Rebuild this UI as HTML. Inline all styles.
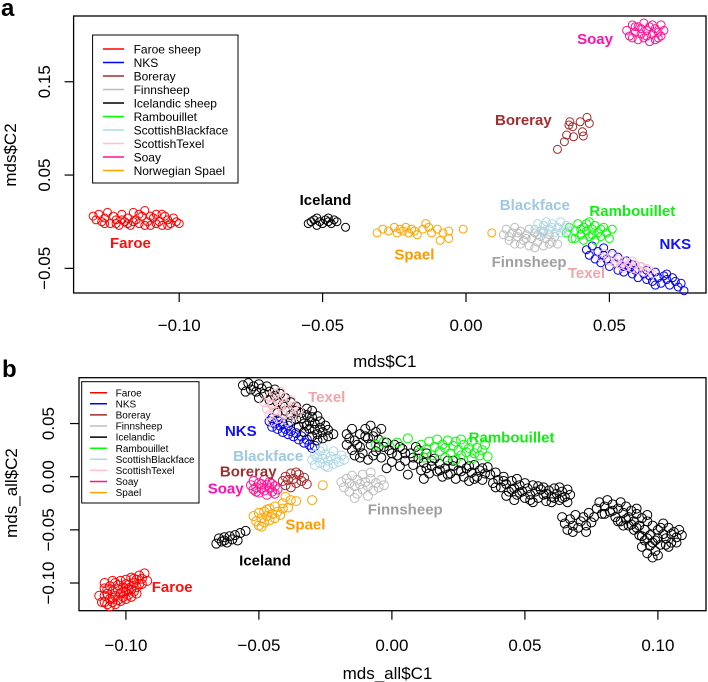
<!DOCTYPE html>
<html><head><meta charset="utf-8"><style>
html,body{margin:0;padding:0;background:#fff;}
svg{display:block;font-family:"Liberation Sans",Arial,sans-serif;}
</style></head><body>
<svg id="fig" width="708" height="682" viewBox="0 0 708 682" xmlns="http://www.w3.org/2000/svg">
<text x="1" y="16" font-size="24" font-weight="bold">a</text>
<text x="2" y="377" font-size="24" font-weight="bold">b</text>
<g id="pa"></g>
<g id="pb"></g>
</svg>
<script>
// ---- data (values in thousandths of MDS units) ----
const breeds = ["Faroe","NKS","Boreray","Finnsheep","Icelandic","Rambouillet","Blackface","Texel","Soay","Spael"];
const colors = {Faroe:"#ff0000",NKS:"#0000ff",Boreray:"#a52a2a",Finnsheep:"#bebebe",Icelandic:"#000000",Rambouillet:"#00ff00",Blackface:"#add8e6",Texel:"#ffc0cb",Soay:"#ff1493",Spael:"#ffa500"};
const labelColors = {Faroe:"#ff1010",NKS:"#1010ff",Boreray:"#a03030",Finnsheep:"#a0a0a0",Icelandic:"#000000",Rambouillet:"#10ee10",Blackface:"#9cc8e0",Texel:"#f4a4a8",Soay:"#ff10b0",Spael:"#ff9900"};
const legendA = ["Faroe sheep","NKS","Boreray","Finnsheep","Icelandic sheep","Rambouillet","ScottishBlackface","ScottishTexel","Soay","Norwegian Spael"];
const legendB = ["Faroe","NKS","Boreray","Finnsheep","Icelandic","Rambouillet","ScottishBlackface","ScottishTexel","Soay","Spael"];
const xTicksA = [-0.10,-0.05,0.00,0.05];
const yTicksA = [-0.05,0.05,0.15];
const xTicksB = [-0.10,-0.05,0.00,0.05,0.10];
const yTicksB = [-0.10,-0.05,0.00,0.05];

const ptsA = {
Faroe:[[-130,6],[-129,2],[-128,8],[-127,0],[-126,4],[-125,10],[-124,-2],[-123,6],[-122,2],[-121,-4],[-120,8],[-119,0],[-118,4],[-117,-4],[-116,10],[-115,2],[-114,-2],[-113,6],[-112,12],[-111,0],[-110,-4],[-109,4],[-108,8],[-107,0],[-106,-4],[-105,6],[-104,2],[-103,-2],[-102,4],[-101,0],[-100,-2],[-118,-2],[-114,8],[-110,6],[-106,8],[-112,-4],[-122,-2],[-126,-2],[-108,-2],[-116,0],[-104,-4],[-120,2]],
NKS:[[42,-30],[43,-36],[44,-26],[45,-40],[46,-32],[47,-44],[48,-36],[48,-28],[49,-40],[50,-48],[51,-34],[52,-44],[53,-52],[53,-38],[54,-46],[55,-54],[56,-42],[57,-50],[58,-56],[58,-46],[59,-52],[60,-60],[61,-48],[62,-56],[63,-62],[63,-52],[64,-58],[65,-64],[66,-54],[67,-60],[68,-66],[69,-58],[70,-62],[71,-68],[72,-60],[73,-64],[74,-70],[75,-66],[76,-74],[66,-68],[60,-52],[55,-48],[70,-56]],
Boreray:[[31.9,77.5],[34.3,85.7],[35.1,92.9],[35.9,103.6],[36.2,107.1],[37.5,91],[39.8,107.1],[40.6,96.4],[40.9,91.8],[42.2,111.8],[43,105.4],[37.2,101.8]],
Finnsheep:[[13,-14],[14,-8],[15,-20],[16,-12],[17,-6],[17,-24],[18,-16],[19,-10],[20,-20],[21,-14],[22,-8],[22,-26],[23,-18],[24,-12],[25,-22],[26,-16],[27,-10],[27,-26],[28,-18],[29,-14],[30,-22],[31,-16],[32,-24],[19,-24],[24,-28],[15,-16],[21,-18],[25,-14],[29,-24],[18,-12]],
Icelandic:[[-55,-2],[-54,0],[-53,2],[-52,4],[-51,0],[-50,-2],[-49,2],[-48,0],[-47,-2],[-46,2],[-45,0],[-42,-6],[-52,-4],[-48,4]],
Rambouillet:[[35,-12],[36,-6],[37,-18],[38,-10],[39,-2],[40,-14],[41,-20],[41,-6],[42,-10],[43,0],[43,-16],[44,-8],[45,-20],[45,-4],[46,-12],[47,-16],[48,-6],[49,-12],[50,-18],[51,-8],[38,-18],[44,-14],[40,-8],[47,-8],[42,-2]],
Blackface:[[24,-8],[25,-2],[26,-10],[27,-4],[28,0],[29,-8],[30,-2],[31,-12],[32,-6],[33,0],[34,-8],[35,-4],[36,-10],[30,-6],[33,-12],[27,-12]],
Texel:[[47,-38],[48,-34],[50,-42],[51,-36],[52,-44],[53,-40],[54,-46],[55,-42],[56,-48],[57,-44],[58,-50],[59,-46],[60,-52],[61,-48],[62,-54],[63,-50],[64,-52],[65,-56],[58,-42],[55,-50]],
Soay:[[56,205],[57,199],[58,211],[59,203],[60,195],[60,209],[61,201],[62,213],[62,197],[63,205],[64,193],[64,209],[65,201],[66,207],[66,195],[67,203],[68,211],[68,199],[69,205],[58,197],[61,207],[63,199],[65,211],[67,197],[59,209]],
Spael:[[-31,-12],[-29,-8],[-27,-10],[-25,-6],[-24,-12],[-23,-8],[-22,-10],[-21,-6],[-20,-12],[-19,-8],[-18,-10],[-17,-14],[-15,-8],[-14,-2],[-13,-6],[-12,-12],[-10,-8],[-9,-20],[-8,-12],[-6,-10],[-6,-18],[-1,-8],[9,-12]]
};
const ptsB = {
Faroe:[[-109,-118],[-108,-112],[-108,-105],[-107,-120],[-107,-110],[-106,-115],[-106,-103],[-105,-108],[-105,-118],[-104,-112],[-104,-100],[-103,-106],[-103,-116],[-102,-110],[-102,-98],[-101,-104],[-101,-113],[-100,-108],[-100,-97],[-99,-102],[-99,-111],[-98,-106],[-98,-95],[-97,-100],[-97,-108],[-96,-97],[-96,-104],[-95,-93],[-95,-101],[-94,-96],[-93,-91],[-92,-98],[-106,-122],[-104,-120],[-102,-117],[-100,-101],[-98,-113],[-108,-100],[-105,-98],[-110,-112],[-107,-106],[-105,-114],[-103,-102],[-101,-108],[-99,-106],[-97,-96],[-94,-101],[-96,-110],[-100,-115],[-108,-118]],
NKS:[[-46,52],[-45,55],[-45,47],[-44,50],[-43,45],[-43,53],[-42,48],[-41,42],[-41,50],[-40,45],[-39,40],[-39,48],[-38,43],[-37,38],[-36,41],[-35,35],[-34,38],[-33,32],[-32,35],[-31,30],[-30,27],[-29,29]],
Boreray:[[-41,-4],[-40,0],[-40,-8],[-39,-3],[-38,3],[-38,-10],[-37,-2],[-36,-6],[-35,2],[-34,-4],[-33,-1],[-32,-7],[-36,4]],
Finnsheep:[[-19,-5],[-18,-10],[-17,-2],[-16,-14],[-16,-6],[-15,1],[-14,-9],[-13,-16],[-13,-3],[-12,-7],[-11,-12],[-11,2],[-10,-5],[-9,-18],[-9,-9],[-8,-2],[-7,-13],[-6,-6],[-5,-10],[-4,-3],[-3,-8],[-14,-20],[-8,4]],
Icelandic:[
[-66,-63],[-65,-58],[-64,-61],[-63,-57],[-62,-62],[-61,-56],[-60,-59],[-59,-55],[-58,-60],[-57,-53],[-55,-51],[-63,-60],
[-56,86],[-54,88],[-52,85],[-50,87],[-55,80],[-53,82],[-51,80],[-49,83],[-47,85],[-48,78],[-46,80],[-44,82],[-50,74],[-46,72],[-44,76],[-42,78],[-40,74],[-45,68],[-43,70],[-41,68],[-38,70],[-36,66],[-40,62],[-38,58],[-36,62],[-34,60],[-32,64],[-38,52],[-36,54],[-34,55],[-32,58],[-30,56],[-35,47],[-33,50],[-31,52],[-29,50],[-27,52],[-33,42],[-31,45],[-29,44],[-27,46],[-25,48],[-30,38],[-28,40],[-26,42],[-24,44],[-28,34],[-26,36],[-24,38],[-22,40],[-43,60],[-30,62],[-28,57],[-32,48],
[-17,30],[-15,25],[-14,34],[-12,40],[-10,45],[-8,48],[-6,42],[-9,36],[-12,28],[-14,20],[-11,22],[-8,30],[-5,35],[-3,28],[-6,24],[-9,16],[-4,18],[-1,25],[1,30],[2,20],[0,14],[4,26],[5,15],[7,22],[8,11],[9,28],[10,17],[11,6],[12,13],[13,22],[14,3],[15,10],[16,17],[17,5],[18,12],[19,0],[20,8],[21,15],[22,3],[23,10],[24,-2],[25,6],[26,13],[27,0],[28,8],[29,-4],[30,4],[31,11],[32,0],[33,6],[34,-3],[35,3],[36,9],[-2,8],[6,2],[12,-2],[-17,40],[-4,45],
[-16,36],[-13,30],[-10,38],[-7,38],[-5,28],[-2,32],[0,22],[3,28],[5,22],[8,18],[10,25],[13,8],[15,15],[18,6],[21,2],[23,15],[26,5],[29,10],[31,-2],[34,8],[-15,45],[-12,18],[-7,20],[3,10],
[37,2],[38,-6],[39,4],[40,-3],[41,-10],[42,0],[43,-7],[44,-14],[45,-4],[46,-11],[47,-17],[48,-8],[49,-14],[50,-20],[51,-11],[52,-17],[53,-8],[54,-14],[55,-20],[56,-12],[57,-17],[58,-23],[59,-13],[60,-19],[61,-11],[62,-16],[63,-22],[64,-14],[65,-19],[66,-12],[67,-17],[46,-22],[53,-24],[60,-24],[43,-18],
[39,-10],[42,-4],[45,-12],[48,-15],[50,-6],[52,-22],[55,-9],[58,-16],[61,-20],[64,-20],[66,-24],[63,-10],[57,-10],[47,-2],
[64,-38],[65,-44],[66,-50],[67,-40],[68,-46],[69,-36],[70,-48],[71,-42],[72,-38],[73,-46],[74,-34],[75,-43],[76,-38],[73,-52],[68,-52],
[77,-30],[78,-24],[79,-35],[80,-28],[81,-22],[82,-33],[83,-26],[84,-38],[85,-30],[86,-24],[86,-42],[87,-34],[88,-28],[89,-46],[89,-38],[90,-32],[91,-50],[91,-42],[92,-35],[93,-55],[93,-46],[94,-39],[95,-60],[95,-50],[96,-42],[97,-65],[97,-55],[98,-46],[99,-70],[99,-60],[100,-50],[101,-64],[102,-54],[102,-44],[103,-58],[104,-48],[105,-62],[106,-52],[107,-57],[108,-50],[96,-72],[100,-74],[104,-66],[109,-55],
[80,-35],[83,-32],[85,-42],[88,-40],[90,-45],[92,-48],[94,-56],[96,-58],[98,-62],[100,-58],[103,-64],[105,-54],[107,-62],[101,-48],[96,-36],[92,-30],[87,-46],[94,-66],[98,-76]],
Rambouillet:[[-6,30],[-3,33],[2,32],[6,36],[10,22],[11,30],[13,26],[14,33],[15,20],[16,28],[17,35],[18,24],[19,30],[20,18],[20,27],[21,34],[22,22],[23,29],[24,16],[24,33],[25,25],[26,20],[27,30],[28,23],[29,27],[30,17],[30,33],[31,22],[32,27],[33,20],[34,25],[35,30],[36,19],[26,35],[12,18]],
Blackface:[[-30,16],[-29,21],[-29,11],[-28,18],[-27,13],[-27,24],[-26,17],[-25,10],[-25,21],[-24,15],[-23,19],[-22,12],[-22,24],[-21,17],[-20,14],[-19,20],[-18,16],[-24,9],[-26,27]],
Texel:[[-48,70],[-47,64],[-46,75],[-46,58],[-45,68],[-44,62],[-44,78],[-43,72],[-43,55],[-42,66],[-41,60],[-41,75],[-40,69],[-39,63],[-39,52],[-38,72],[-37,66],[-36,58],[-35,62],[-42,80],[-45,52]],
Soay:[[-53,-8],[-52,-12],[-52,-4],[-51,-10],[-50,-15],[-50,-6],[-49,-11],[-48,-3],[-48,-13],[-47,-8],[-47,-17],[-46,-11],[-46,-5],[-45,-14],[-44,-9],[-43,-12],[-49,-7],[-45,-7],[-51,-14],[-44,-16]],
Spael:[[-52,-37],[-51,-42],[-50,-34],[-50,-46],[-49,-39],[-48,-43],[-48,-33],[-47,-37],[-46,-41],[-46,-30],[-45,-35],[-44,-39],[-44,-28],[-43,-33],[-42,-36],[-41,-30],[-49,-47],[-47,-31],[-40,-19],[-38,-22],[-36,-23],[-30,-22],[-26,-8],[-41,-25],[-39,-29]]
};
const labelsA = [["Soay",45,196],["Boreray",20,109],["Iceland",-49,23],["Faroe",-117,-23],["Blackface",24,18],["Rambouillet",58,11.5],["Spael",-18,-35],["Finnsheep",22,-43],["Texel",42,-55],["NKS",73,-24]];
const labelsB = [["Texel",-24.5,75],["NKS",-56.8,43],["Rambouillet",45,37],["Blackface",-46.5,19.5],["Boreray",-54,5],["Soay",-62.5,-11],["Finnsheep",5,-31],["Spael",-32.5,-45],["Iceland",-47.7,-79],["Faroe",-82.6,-103.7]];
const labelBreed = {Iceland:"Icelandic"};

const NS="http://www.w3.org/2000/svg";
function mk(tag,attrs,parent){const e=document.createElementNS(NS,tag);for(const k in attrs)e.setAttribute(k,attrs[k]);parent.appendChild(e);return e;}

function panel(g,cfg){
  const sx=v=>cfg.x0px+(v-cfg.x0v)*cfg.kx;
  const sy=v=>cfg.y0px-(v-cfg.y0v)*cfg.ky;
  const box=mk("rect",{x:cfg.L,y:cfg.T,width:cfg.R-cfg.L,height:cfg.B-cfg.T,fill:"none",stroke:"#000","stroke-width":1.3},g);
  
  
  cfg.xt.forEach(v=>{
    const x=sx(v);
    const t=mk("line",{x1:x,x2:x,y1:cfg.B,y2:cfg.B+9,stroke:"#000","stroke-width":1.2},g);
    
    
    const l=mk("text",{x:x,y:cfg.xlabY,"font-size":17,"text-anchor":"middle"},g);
    l.textContent=(v<0?"\u2212":"")+Math.abs(v).toFixed(2);
    
    
  });
  cfg.yt.forEach(v=>{
    const y=sy(v);
    const t=mk("line",{x1:cfg.L-9,x2:cfg.L,y1:y,y2:y,stroke:"#000","stroke-width":1.2},g);
    
    
    const l=mk("text",{x:0,y:0,"font-size":17,"text-anchor":"middle",transform:`translate(${cfg.ylabX},${y}) rotate(-90)`},g);
    l.textContent=(v<0?"\u2212":"")+Math.abs(v).toFixed(2);
    
    
  });
  const xt=mk("text",{x:(cfg.L+cfg.R)/2-5,y:cfg.xTitleY,"font-size":17,"text-anchor":"middle"},g);
  xt.textContent=cfg.xTitle;
  
  
  const yt=mk("text",{x:0,y:0,"font-size":17,"text-anchor":"middle",transform:`translate(${cfg.yTitleX},${cfg.yTitleY}) rotate(-90)`},g);
  yt.textContent=cfg.yTitle;
  
  
  breeds.forEach(b=>{
    const sg=mk("g",{},g);
    
    
    cfg.pts[b].forEach(p=>{
      const c=mk("circle",{cx:sx(p[0]/1000),cy:sy(p[1]/1000),r:cfg.r,fill:"none",stroke:colors[b],"stroke-width":1},sg);
      
      
    });
  });
  cfg.labels.forEach(a=>{
    const b=labelBreed[a[0]]||a[0];
    const t=mk("text",{x:sx(a[1]/1000),y:sy(a[2]/1000)+5,"font-size":15,"font-weight":"bold","text-anchor":"middle",fill:labelColors[b]},g);
    t.textContent=a[0];
    
    
  });
  const lg=mk("g",{},g);
  
  
  const lb=mk("rect",{x:cfg.lg.x,y:cfg.lg.y,width:cfg.lg.w,height:cfg.lg.h,fill:"#fff",stroke:"#000","stroke-width":1},lg);
  
  
  cfg.legend.forEach((name,i)=>{
    const y=cfg.lg.y0+i*cfg.lg.step;
    const ln=mk("line",{x1:cfg.lg.lx1,x2:cfg.lg.lx2,y1:y,y2:y,stroke:colors[breeds[i]],"stroke-width":1.5},lg);
    
    
    const t=mk("text",{x:cfg.lg.tx,y:y+cfg.lg.fs*0.36,"font-size":cfg.lg.fs},lg);
    t.textContent=name;
    
    
  });
}

panel(document.getElementById("pa"),{
  L:73.6,R:706,T:16,B:293,
  x0v:0,x0px:466,kx:2868,y0v:0,y0px:221.7,ky:933,
  xt:xTicksA,yt:yTicksA,xlabY:331,ylabX:50,xTitleY:367,xTitle:"mds$C1",yTitleX:16,yTitleY:155,yTitle:"mds$C2",
  pts:ptsA,r:4,labels:labelsA,legend:legendA,
  lg:{x:92.6,y:35,w:145.4,h:148,y0:49,step:13.5,lx1:103,lx2:124,tx:133.6,fs:12}
});
panel(document.getElementById("pb"),{
  L:79,R:706,T:377.7,B:610.7,
  x0v:0,x0px:391.9,kx:2660,y0v:0,y0px:476.7,ky:1063,
  xt:xTicksB,yt:yTicksB,xlabY:651,ylabX:54,xTitleY:679,xTitle:"mds_all$C1",yTitleX:17,yTitleY:493,yTitle:"mds_all$C2",
  pts:ptsB,r:4.5,labels:labelsB,legend:legendB,
  lg:{x:81.7,y:381.7,w:117.3,h:121.3,y0:392.7,step:11.1,lx1:90,lx2:107,tx:115.6,fs:10}
});
</script>
</body></html>
